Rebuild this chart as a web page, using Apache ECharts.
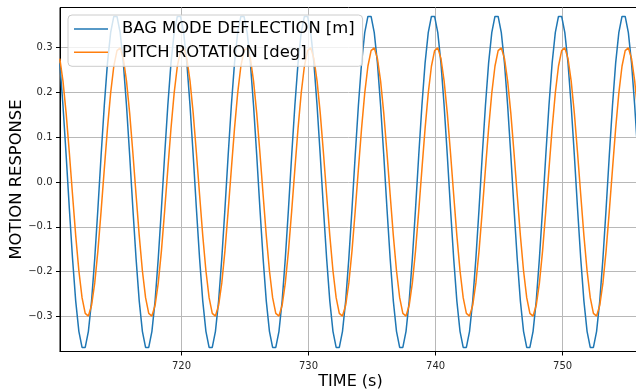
<!DOCTYPE html>
<html>
<head>
<meta charset="utf-8">
<script src="https://cdn.jsdelivr.net/npm/echarts@6/dist/echarts.min.js"></script>
<style>
html,body{margin:0;padding:0;background:#fff;}
#chart{width:636px;height:392px;}
</style>
</head>
<body>
<div id="chart"></div>
<script>
// Sampling grid of the time series (s)
var SAMPLE_START = 710.425;
var SAMPLE_STEP = 0.25;

var seriesNames = ['BAG MODE DEFLECTION [m]', 'PITCH ROTATION [deg]'];

var bagDeflection = [
  0.265, 0.170, 0.059, -0.059, -0.170, -0.265, -0.333, -0.369, -0.369, -0.333, -0.265, -0.170, -0.059, 0.059, 0.170, 0.265, 0.333, 0.369, 0.369, 0.333,
  0.265, 0.170, 0.059, -0.059, -0.170, -0.265, -0.333, -0.369, -0.369, -0.333, -0.265, -0.170, -0.059, 0.059, 0.170, 0.265, 0.333, 0.369, 0.369, 0.333,
  0.265, 0.170, 0.059, -0.059, -0.170, -0.265, -0.333, -0.369, -0.369, -0.333, -0.265, -0.170, -0.059, 0.059, 0.170, 0.265, 0.333, 0.369, 0.369, 0.333,
  0.265, 0.170, 0.059, -0.059, -0.170, -0.265, -0.333, -0.369, -0.369, -0.333, -0.265, -0.170, -0.059, 0.059, 0.170, 0.265, 0.333, 0.369, 0.369, 0.333,
  0.265, 0.170, 0.059, -0.059, -0.170, -0.265, -0.333, -0.369, -0.369, -0.333, -0.265, -0.170, -0.059, 0.059, 0.170, 0.265, 0.333, 0.369, 0.369, 0.333,
  0.265, 0.170, 0.059, -0.059, -0.170, -0.265, -0.333, -0.369, -0.369, -0.333, -0.265, -0.170, -0.059, 0.059, 0.170, 0.265, 0.333, 0.369, 0.369, 0.333,
  0.265, 0.170, 0.059, -0.059, -0.170, -0.265, -0.333, -0.369, -0.369, -0.333, -0.265, -0.170, -0.059, 0.059, 0.170, 0.265, 0.333, 0.369, 0.369, 0.333,
  0.265, 0.170, 0.059, -0.059, -0.170, -0.265, -0.333, -0.369, -0.369, -0.333, -0.265, -0.170, -0.059, 0.059, 0.170, 0.265, 0.333, 0.369, 0.369, 0.333,
  0.265, 0.170, 0.059, -0.059, -0.170, -0.265, -0.333, -0.369, -0.369, -0.333, -0.265, -0.170, -0.059, 0.059, 0.170, 0.265, 0.333, 0.369, 0.369, 0.333,
  0.265, 0.170, 0.059, -0.059
];

var pitchRotation = [
  0.275, 0.225, 0.153, 0.065, -0.028, -0.119, -0.198, -0.258, -0.293, -0.299, -0.275, -0.225, -0.153, -0.065, 0.028, 0.119, 0.198, 0.258, 0.293, 0.299,
  0.275, 0.225, 0.153, 0.065, -0.028, -0.119, -0.198, -0.258, -0.293, -0.299, -0.275, -0.225, -0.153, -0.065, 0.028, 0.119, 0.198, 0.258, 0.293, 0.299,
  0.275, 0.225, 0.153, 0.065, -0.028, -0.119, -0.198, -0.258, -0.293, -0.299, -0.275, -0.225, -0.153, -0.065, 0.028, 0.119, 0.198, 0.258, 0.293, 0.299,
  0.275, 0.225, 0.153, 0.065, -0.028, -0.119, -0.198, -0.258, -0.293, -0.299, -0.275, -0.225, -0.153, -0.065, 0.028, 0.119, 0.198, 0.258, 0.293, 0.299,
  0.275, 0.225, 0.153, 0.065, -0.028, -0.119, -0.198, -0.258, -0.293, -0.299, -0.275, -0.225, -0.153, -0.065, 0.028, 0.119, 0.198, 0.258, 0.293, 0.299,
  0.275, 0.225, 0.153, 0.065, -0.028, -0.119, -0.198, -0.258, -0.293, -0.299, -0.275, -0.225, -0.153, -0.065, 0.028, 0.119, 0.198, 0.258, 0.293, 0.299,
  0.275, 0.225, 0.153, 0.065, -0.028, -0.119, -0.198, -0.258, -0.293, -0.299, -0.275, -0.225, -0.153, -0.065, 0.028, 0.119, 0.198, 0.258, 0.293, 0.299,
  0.275, 0.225, 0.153, 0.065, -0.028, -0.119, -0.198, -0.258, -0.293, -0.299, -0.275, -0.225, -0.153, -0.065, 0.028, 0.119, 0.198, 0.258, 0.293, 0.299,
  0.275, 0.225, 0.153, 0.065, -0.028, -0.119, -0.198, -0.258, -0.293, -0.299, -0.275, -0.225, -0.153, -0.065, 0.028, 0.119, 0.198, 0.258, 0.293, 0.299,
  0.275, 0.225, 0.153, 0.065
];

var xTicks = [720, 730, 740, 750];
var yTicks = [-0.3, -0.2, -0.1, 0.0, 0.1, 0.2, 0.3];

function pairs(values) {
  return values.map(function (v, i) { return [SAMPLE_START + i * SAMPLE_STEP, v]; });
}

var FONT = 'DejaVu Sans';
var LINE_ICON = 'path://M0,0L68,0L68,3L0,3Z';
var chart = echarts.init(document.getElementById('chart'), null, {renderer: 'canvas'});

chart.setOption({
  animation: false,
  backgroundColor: '#ffffff',
  grid: {
    left: 60, right: -5, top: 7.5, bottom: 40.5,
    containLabel: false, outerBoundsMode: 'none',
    show: true, borderColor: '#000', borderWidth: 1, backgroundColor: 'transparent'
  },
  legend: {
    orient: 'vertical',
    left: 68, top: 15,
    padding: [6, 8, 6, 6],
    itemWidth: 34, itemHeight: 18, itemGap: 7.3,
    backgroundColor: 'rgba(255,255,255,0.8)',
    borderColor: '#cccccc', borderWidth: 1, borderRadius: 4,
    textStyle: {fontFamily: FONT, fontSize: 16.4, color: '#000', padding: [0, 0, 0, 9]},
    data: [
      {name: seriesNames[0], icon: LINE_ICON},
      {name: seriesNames[1], icon: LINE_ICON}
    ]
  },
  xAxis: {
    type: 'value',
    min: 710.44, max: 756.17,
    name: 'TIME (s)',
    nameLocation: 'middle', nameGap: 22, nameMoveOverlap: false,
    nameTextStyle: {fontFamily: FONT, fontSize: 16, color: '#000'},
    axisLine: {show: true, onZero: false, lineStyle: {color: '#000', width: 1}},
    axisTick: {show: true, length: 4, customValues: xTicks, lineStyle: {color: '#000', width: 1}},
    axisLabel: {customValues: xTicks, margin: 9.5, fontFamily: FONT, fontSize: 10, color: '#262626',
      formatter: function (v) { return String(Math.round(v)); }},
    splitLine: {show: true, lineStyle: {color: '#b8b8b8', width: 1}}
  },
  yAxis: {
    type: 'value',
    min: -0.378, max: 0.389,
    name: 'MOTION RESPONSE',
    nameLocation: 'middle', nameGap: 35, nameMoveOverlap: false,
    nameTextStyle: {fontFamily: FONT, fontSize: 16.4, color: '#000'},
    axisLine: {show: true, onZero: false, lineStyle: {color: '#000', width: 1}},
    axisTick: {show: true, length: 4, customValues: yTicks, lineStyle: {color: '#000', width: 1}},
    axisLabel: {customValues: yTicks, margin: 7.5, fontFamily: FONT, fontSize: 10, color: '#262626',
      formatter: function (v) { var r = Math.round(v * 10) / 10; return (r < 0 ? '\u2212' : '') + Math.abs(r).toFixed(1); }},
    splitLine: {show: true, lineStyle: {color: '#b8b8b8', width: 1}}
  },
  series: [
    {
      name: seriesNames[0], type: 'line', symbol: 'none', data: pairs(bagDeflection),
      lineStyle: {color: '#1f77b4', width: 1.5}, itemStyle: {color: '#1f77b4'}, z: 2
    },
    {
      name: seriesNames[1], type: 'line', symbol: 'none', data: pairs(pitchRotation),
      lineStyle: {color: '#ff7f0e', width: 1.5}, itemStyle: {color: '#ff7f0e'}, z: 3
    }
  ]
});
</script>
</body>
</html>
